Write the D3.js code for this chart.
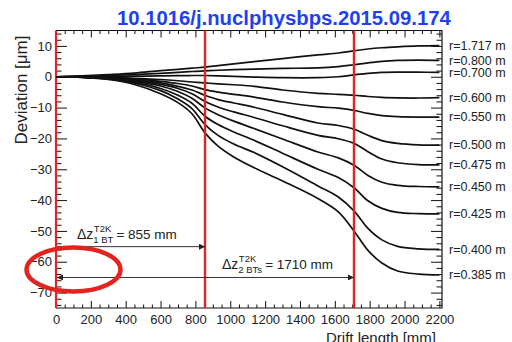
<!DOCTYPE html>
<html><head><meta charset="utf-8">
<script src="https://cdn.jsdelivr.net/npm/d3@7"></script>
<style>
html,body{margin:0;padding:0;background:#fff;}
svg{display:block;font-family:"Liberation Sans",Arial,Helvetica,sans-serif;}
</style></head>
<body>
<svg id="c" width="512" height="342"></svg>
<script>
// ---- data ----
const driftLength = [0,150,300,450,600,700,780,855,930,1020,1137,1300,1503,1620,1710,1790,1870,1960,2080,2200];
const radii = ["r=1.717 m","r=0.800 m","r=0.700 m","r=0.600 m","r=0.550 m","r=0.500 m","r=0.475 m","r=0.450 m","r=0.425 m","r=0.400 m","r=0.385 m"];
const dev_r1717 = [0,0.3,0.7,1.2,2.0,2.4,2.8,3.1,3.6,4.2,4.9,5.9,7.1,7.7,8.4,9.0,9.4,9.7,10.0,10.1];
const dev_r0800 = [0,0.2,0.4,0.7,1.1,1.4,1.7,1.9,2.1,2.3,2.5,2.7,2.9,3.3,3.9,4.5,5.0,5.3,5.4,5.3];
const dev_r0700 = [0,0.1,0.1,0.2,0.3,0.35,0.4,0.4,0.3,0.1,-0.1,-0.3,-0.3,0.0,0.6,1.1,1.4,1.5,1.5,1.4];
const dev_r0600 = [0,-0.05,-0.2,-0.5,-0.9,-1.3,-1.7,-2.0,-2.3,-2.6,-3.1,-4.3,-5.4,-5.7,-6.0,-6.4,-6.7,-6.85,-6.9,-6.8];
const dev_r0550 = [0,-0.1,-0.3,-0.7,-1.5,-2.2,-3.0,-4.2,-5.0,-5.7,-6.6,-8.2,-9.7,-10.2,-10.9,-11.9,-12.6,-12.95,-13.1,-13.1];
const dev_r0500 = [0,-0.1,-0.4,-1.0,-2.0,-3.1,-4.3,-6.0,-7.4,-8.5,-9.9,-12.2,-15.0,-15.8,-17.0,-19.0,-20.7,-21.6,-22.1,-22.2];
const dev_r0475 = [0,-0.1,-0.4,-1.2,-2.5,-3.8,-5.5,-8.0,-9.8,-11.4,-13.2,-15.9,-19.0,-20.1,-21.6,-24.3,-26.7,-27.9,-28.5,-28.6];
const dev_r0450 = [0,-0.1,-0.5,-1.5,-3.0,-4.8,-7.0,-10.1,-12.3,-14.4,-16.8,-20.2,-24.4,-26.3,-28.7,-32.0,-34.2,-35.2,-35.6,-35.7];
const dev_r0425 = [0,-0.15,-0.6,-1.8,-3.8,-6.0,-8.6,-12.8,-15.5,-17.9,-20.6,-24.8,-30.0,-32.7,-36.0,-40.2,-42.7,-44.0,-44.4,-44.5];
const dev_r0400 = [0,-0.2,-0.7,-2.1,-4.5,-7.2,-10.3,-15.5,-19.0,-21.8,-24.6,-29.2,-35.4,-39.0,-43.5,-49.2,-52.9,-55.0,-55.8,-56.0];
const dev_r0385 = [0,-0.2,-0.9,-2.5,-5.5,-8.4,-12.0,-18.2,-22.5,-26.0,-29.5,-33.8,-39.5,-43.8,-50.0,-56.3,-60.4,-63.0,-64.0,-64.3];
const series = [dev_r1717,dev_r0800,dev_r0700,dev_r0600,dev_r0550,dev_r0500,dev_r0475,dev_r0450,dev_r0425,dev_r0400,dev_r0385];
const xTicks = [0,200,400,600,800,1000,1200,1400,1600,1800,2000,2200];
const yTicks = [-70,-60,-50,-40,-30,-20,-10,0,10];
const boundaries = [855, 1710];
const titleText = "10.1016/j.nuclphysbps.2015.09.174";
const yLabel = "Deviation [\u03bcm]";
const xLabel = "Drift length [mm]";

// ---- layout ----
const L = 56, R = 442, T = 30.5, B = 308;
const svg = d3.select("#c");
const x = d3.scaleLinear().domain([0, 2215]).range([L, R]);
const y = d3.scaleLinear().domain([-75, 15]).range([B, T]);
const red = "#e3231f";
const txt = "#222";

const xMinor = d3.range(0, 2201, 50).filter(v => v % 200 !== 0);
const yMinor = d3.range(-74, 15, 2).filter(v => v % 10 !== 0);

function styleAxis(g){ g.select(".domain").remove(); g.selectAll("line").attr("stroke","#111").attr("stroke-width",1);
  g.selectAll("text").attr("fill",txt).style("font-size","13px").style("font-family",'"Liberation Sans",Arial,sans-serif'); }

svg.append("g").attr("transform",`translate(0,${B})`).call(d3.axisBottom(x).tickValues(xTicks).tickSize(-7).tickPadding(7).tickFormat(d3.format("d"))).call(styleAxis);
svg.append("g").attr("transform",`translate(0,${B})`).call(d3.axisBottom(x).tickValues(xMinor).tickSize(-3.5).tickFormat("")).call(styleAxis);
svg.append("g").attr("transform",`translate(0,${T})`).call(d3.axisTop(x).tickValues(xTicks).tickSize(-7).tickFormat("")).call(styleAxis);
svg.append("g").attr("transform",`translate(0,${T})`).call(d3.axisTop(x).tickValues(xMinor).tickSize(-3.5).tickFormat("")).call(styleAxis);
svg.append("g").attr("transform",`translate(${L},0)`).call(d3.axisLeft(y).tickValues(yTicks).tickSize(-11).tickPadding(4)).call(styleAxis);
svg.append("g").attr("transform",`translate(${L},0)`).call(d3.axisLeft(y).tickValues(yMinor).tickSize(-5.5).tickFormat("")).call(styleAxis);
svg.append("g").attr("transform",`translate(${R},0)`).call(d3.axisRight(y).tickValues(yTicks).tickSize(-11).tickFormat("")).call(styleAxis);
svg.append("g").attr("transform",`translate(${R},0)`).call(d3.axisRight(y).tickValues(yMinor).tickSize(-5.5).tickFormat("")).call(styleAxis);

// frame
svg.append("path").attr("d",`M${L},${T}H${R}V${B}H${L}`).attr("fill","none").attr("stroke","#111").attr("stroke-width",1.2);
svg.append("line").attr("x1",L).attr("x2",L).attr("y1",T).attr("y2",B).attr("stroke",red).attr("stroke-width",2.2);

// curves
const line = d3.line().x((d,i)=>x(driftLength[i])).y(d=>y(d)).curve(d3.curveCatmullRom.alpha(0.5));
svg.append("g").selectAll("path").data(series).join("path")
  .attr("d", line).attr("fill","none").attr("stroke","#111").attr("stroke-width",1.7);

// boundary lines
svg.append("g").selectAll("line").data(boundaries).join("line")
  .attr("x1",d=>x(d)).attr("x2",d=>x(d)).attr("y1",T).attr("y2",B)
  .attr("stroke",red).attr("stroke-width",2.4);

// curve labels
svg.append("g").selectAll("text").data(series).join("text")
  .attr("x", R + 7).attr("y", d => y(d[d.length-1])).attr("dy","0.33em")
  .attr("fill",txt).style("font-size","12.5px").text((d,i)=>radii[i]);

// arrows
const defs = svg.append("defs");
defs.append("marker").attr("id","ah").attr("viewBox","0 0 10 10").attr("refX",10).attr("refY",5)
  .attr("markerWidth",7).attr("markerHeight",6).attr("markerUnits","userSpaceOnUse").attr("orient","auto-start-reverse")
  .append("path").attr("d","M0,0L10,5L0,10z").attr("fill","#222");
svg.append("line").attr("x1",x(0)+1).attr("x2",x(boundaries[0])).attr("y1",y(-55.1)).attr("y2",y(-55.1))
  .attr("stroke","#333").attr("stroke-width",1).attr("marker-end","url(#ah)");
svg.append("line").attr("x1",x(0)+1).attr("x2",x(boundaries[1])).attr("y1",y(-65.1)).attr("y2",y(-65.1))
  .attr("stroke","#333").attr("stroke-width",1).attr("marker-end","url(#ah)").attr("marker-start","url(#ah)");

function deltaLabel(px, py, sup, sub, rest){
  const g = svg.append("g").attr("fill",txt);
  const a = g.append("text").attr("x",px).attr("y",py).style("font-size","14px").text("\u0394z");
  const w = a.node().getComputedTextLength();
  const s1 = g.append("text").attr("x",px+w+0.5).attr("y",py-7).style("font-size","9.5px").text(sup);
  const s2 = g.append("text").attr("x",px+w).attr("y",py+3.5).style("font-size","9.5px").text(sub);
  const w2 = Math.max(s1.node().getComputedTextLength(), s2.node().getComputedTextLength());
  g.append("text").attr("x",px+w+w2+3).attr("y",py).style("font-size","13.5px").text(rest);
}
deltaLabel(77, 239, "T2K", "1 BT", "= 855 mm");
deltaLabel(222, 269, "T2K", "2 BTs", "= 1710 mm");

// axis titles
svg.append("text").attr("transform","translate(27,90) rotate(-90)").attr("text-anchor","middle")
  .attr("fill",txt).style("font-size","17px").text(yLabel);
svg.append("text").attr("x",436).attr("y",342.5).attr("text-anchor","end")
  .attr("fill",txt).style("font-size","15px").text(xLabel);

// title
svg.append("text").attr("x",117).attr("y",25).attr("fill","#1f3ff2")
  .style("font-size","20.3px").style("font-weight","bold").text(titleText);

// highlight ellipse
svg.append("ellipse").attr("cx",73.5).attr("cy",269.5).attr("rx",47).attr("ry",22)
  .attr("fill","none").attr("stroke",red).attr("stroke-width",4.5);
</script>
</body></html>
